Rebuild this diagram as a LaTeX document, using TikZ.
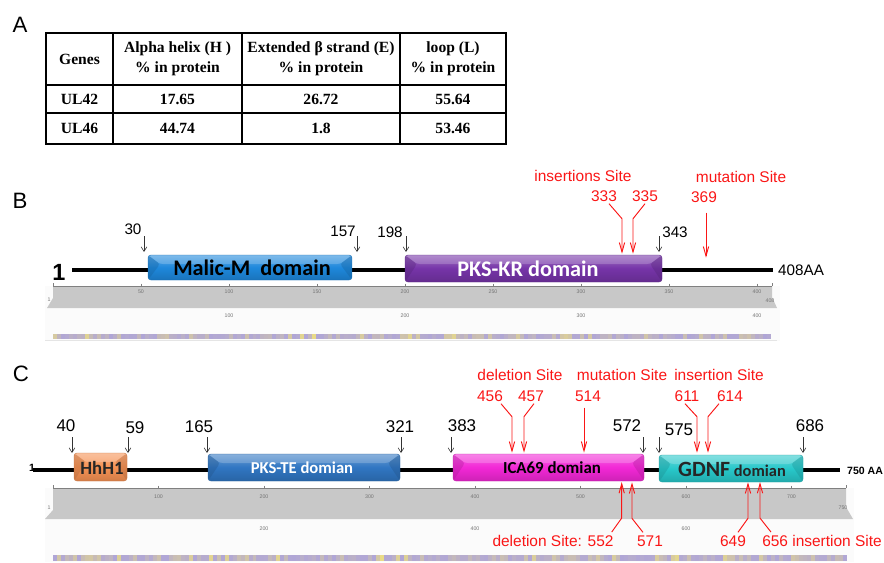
\documentclass[tikz,border=0pt]{standalone}
\usepackage{fontspec}
\setmainfont{Liberation Sans}
\newfontfamily\tabfont{Liberation Serif}
\newfontfamily\domfont{Carlito}
\usetikzlibrary{arrows.meta}

\definecolor{sitered}{RGB}{250,22,22}
\definecolor{malicblue}{RGB}{30,136,220}
\definecolor{kspurple}{RGB}{118,52,168}
\definecolor{hhorange}{RGB}{246,146,84}
\definecolor{teblue}{RGB}{48,118,194}
\definecolor{icamagenta}{RGB}{242,40,214}
\definecolor{gdnfcyan}{RGB}{40,200,202}
\definecolor{rulergray}{RGB}{200,200,200}
\definecolor{stripeA}{RGB}{176,166,214}
\definecolor{stripeB}{RGB}{238,224,128}

\begin{document}
\begin{tikzpicture}[x = 0.03cm, y = -0.03cm,
    tabline/.style = {line width = 1pt},
    tabtext/.style = {font = \tabfont\bfseries\fontsize{13.3}{17}\selectfont, align = center, inner sep = 0},
    panel/.style = {font = \fontsize{19}{19}\selectfont, inner sep = 0},
    numB/.style = {font = \fontsize{13}{13}\selectfont, inner sep = 0},
    numC/.style = {font = \fontsize{14.5}{14.5}\selectfont, inner sep = 0},
    site/.style = {text = sitered, font = \fontsize{13.2}{13.2}\selectfont, inner sep = 0},
    ticklbl/.style = {text = black!55, font = \fontsize{4.5}{5}\selectfont, inner sep = 0},
    backbone/.style = {line width = 3pt},
    blkarrow/.style = {-{Straight Barb[length = 4pt, width = 5pt]}, line width = 0.5pt, black!80},
    redarrow/.style = {-{Straight Barb[length = 8pt, width = 4.5pt]}, line width = 0.8pt, sitered},
    domain/.style = {rounded corners = 2.5pt, draw = #1!80!black, line width = 0.3pt,
        top color = #1!72!white, bottom color = #1!85!black, middle color = #1,
        path picture = {
            \fill[#1!70!black, opacity = 0.35] (path picture bounding box.north west) -- ++(12,9)
                -- (path picture bounding box.south west) -- cycle;
            \fill[#1!70!black, opacity = 0.35] (path picture bounding box.north east) -- ++(-12,9)
                -- (path picture bounding box.south east) -- cycle;
            \fill[white, opacity = 0.2] (path picture bounding box.north west) -- (path picture bounding box.north east)
                -- ++(-12,9) -- ([shift = {(12,9)}]path picture bounding box.north west) -- cycle;
        }},
    domlabel/.style = {font = \domfont\bfseries, inner sep = 0}
]
\useasboundingbox (0,0) rectangle (884,563);

% ---------- A: table
\node[panel] (lblA) at (20,25) {A};
\draw[tabline] (46,33) rectangle (506,144);
\draw[tabline] (46,85) -- (506,85);
\draw[tabline] (46,113) -- (506,113);
\draw[tabline] (113,33) -- (113,144);
\draw[tabline] (242,33) -- (242,144);
\draw[tabline] (400,33) -- (400,144);

\node[tabtext] (hgenes) at (79.5,59) {Genes};
\node[tabtext] (halpha) at (177.5,59) {Alpha helix (H )\\\% in protein};
\node[tabtext] (hbeta) at (321,59) {Extended β strand (E)\\\% in protein};
\node[tabtext] (hloop) at (453,59) {loop (L)\\\% in protein};
\node[tabtext] (gul42) at (79.5,99) {UL42};
\node[tabtext] (aul42) at (177.5,99) {17.65};
\node[tabtext] (bul42) at (321,99) {26.72};
\node[tabtext] (lul42) at (453,99) {55.64};
\node[tabtext] (gul46) at (79.5,128.5) {UL46};
\node[tabtext] (aul46) at (177.5,128.5) {44.74};
\node[tabtext] (bul46) at (321,128.5) {1.8};
\node[tabtext] (lul46) at (453,128.5) {53.46};

% ---------- B: UL42
\node[panel] (lblB) at (20,201) {B};

% ruler
\fill[gray!3] (45,286) rectangle (780,341);
\fill[rulergray] (53,286) -- (772,286) -- (772,297) -- (777,308) -- (47,308) -- (53,298) -- cycle;
\draw[black!50, line width = 0.5pt] (53,286) -- (772,286);
\draw[black!50, line width = 0.5pt] (53,283) -- (53,286);
\draw[black!50, line width = 0.5pt] (772,283) -- (772,286);
\foreach \n in {50,100,...,400} {
    \draw[black!50, line width = 0.4pt] ({53+\n*1.76},283.5) -- ({53+\n*1.76},286);
    \node[ticklbl] (tB\n) at ({53+\n*1.76},292) {\n};
}
\node[ticklbl] (tB1) at (49,300) {1};
\node[ticklbl] (tBend) at (770,301) {408};
\foreach \n in {100,200,300,400}
    \node[ticklbl] (sB\n) at ({53+\n*1.76},316) {\n};
\pgfmathsetseed{11}
\foreach \i in {0,...,179} {
    \pgfmathsetmacro{\m}{int(100*rnd*rnd)}
    \fill[stripeB!\m!stripeA] ({53+\i*3.99},334) rectangle ++(4.1,5);
}
\draw[black!10, line width = 0.6pt] (45,340.5) -- (777,340.5);

% backbone and domains
\draw[backbone] (72,270) -- (773,270);
\node[font = \bfseries\fontsize{20}{20}\selectfont, inner sep = 0] (startB) at (59,272) {1};
\node[numB, anchor = west] (endB) at (778,270) {408AA};
\path[domain = malicblue] (148,255) rectangle (352,280);
\node[domlabel, font = \domfont\bfseries\fontsize{19}{19}\selectfont, text = black] (malic) at (252,268) {Malic-M\ \ domain};
\path[domain = kspurple] (405,255) rectangle (662,282);
\node[domlabel, font = \domfont\bfseries\fontsize{19}{19}\selectfont, text = white] (pkskr) at (528,269) {PKS-KR domain};

% domain borders
\foreach \ax in {144,357,406,659}
    \draw[blkarrow] (\ax,236) -- (\ax,252) coordinate (tipB\ax);
\node[numB] (n30) at (133,229) {30};
\node[numB] (n157) at (343,231) {157};
\node[numB] (n198) at (390,232) {198};
\node[numB] (n343) at (675,232) {343};

% sites
\node[site] (insB) at (583,176) {insertions Site};
\node[site] (n333) at (604,196) {333};
\node[site] (n335) at (645,196) {335};
\node[site] (mutB) at (741,177) {mutation Site};
\node[site] (n369) at (704,197) {369};
\draw[redarrow] (n333.south) ++(5,2) -- ++(13,15) -- ++(0,35);
\draw[redarrow] (n335.south) ++(0,2) -- ++(-12,15) -- ++(0,35);
\draw[redarrow] (n369.south) ++(2,10) -- ++(0,45);

% ---------- C: UL46
\node[panel] (lblC) at (21,374) {C};

% ruler
\fill[gray!3] (45,488) rectangle (854,562);
\fill[rulergray] (53,488) -- (846,488) -- (846,507) -- (853,519) -- (45,519) -- (53,510) -- cycle;
\draw[black!50, line width = 0.5pt] (53,488) -- (846,488);
\draw[black!50, line width = 0.5pt] (53,485) -- (53,488);
\draw[black!50, line width = 0.5pt] (846,485) -- (846,488);
\foreach \n in {100,200,...,700} {
    \draw[black!50, line width = 0.4pt] ({53+\n*1.055},485.5) -- ({53+\n*1.055},488);
    \node[ticklbl] (tC\n) at ({53+\n*1.055},497) {\n};
}
\node[ticklbl] (tC1) at (49,508) {1};
\node[ticklbl] (tCend) at (843,508) {750};
\foreach \n in {200,400,600}
    \node[ticklbl] (sC\n) at ({53+\n*1.055},529) {\n};
\pgfmathsetseed{23}
\foreach \i in {0,...,198} {
    \pgfmathsetmacro{\m}{int(100*rnd*rnd)}
    \fill[stripeB!\m!stripeA] ({53+\i*3.99},555) rectangle ++(4.1,6);
}

% backbone and domains
\draw[backbone, line width = 3.5pt] (33,470) -- (840,470);
\node[font = \bfseries\fontsize{9}{9}\selectfont, inner sep = 0] (startC) at (32,468) {1};
\node[font = \bfseries\fontsize{9}{9}\selectfont, inner sep = 0, anchor = west] (endC) at (847,471) {750 AA};
\path[domain = hhorange] (74,453) rectangle (127,481);
\node[domlabel, font = \domfont\bfseries\fontsize{16}{16}\selectfont, text = black!85] (hhh) at (102,468) {HhH1};
\path[domain = teblue] (208,454) rectangle (400,481);
\node[domlabel, font = \domfont\bfseries\fontsize{14.2}{14.2}\selectfont, text = white] (pkste) at (302,468) {PKS-TE domian};
\path[domain = icamagenta] (453,454) rectangle (644,481);
\node[domlabel, font = \domfont\bfseries\fontsize{14.4}{14.4}\selectfont, text = black] (ica) at (552,468) {ICA69 domian};
\path[domain = gdnfcyan] (659,455) rectangle (803,482);
\node[domlabel, font = \domfont\bfseries\fontsize{14}{14}\selectfont, text = black!85] (gdnf) at (732,469)
    {{\fontsize{18.6}{18.6}\selectfont GDNF} domian};

% domain borders
\foreach \ax in {72,128,207,401,451,643,659,803}
    \draw[blkarrow] (\ax,437) -- (\ax,453) coordinate (tipC\ax);
\node[numC] (n40) at (66,426) {40};
\node[numC] (n59) at (135,428) {59};
\node[numC] (n165) at (199,427) {165};
\node[numC] (n321) at (400,427) {321};
\node[numC] (n383) at (462,426) {383};
\node[numC] (n572) at (627,426) {572};
\node[numC] (n575) at (679,430) {575};
\node[numC] (n686) at (810,426) {686};

% sites above
\node[site] (delC) at (520,375) {deletion Site};
\node[site] (n456) at (490,396) {456};
\node[site] (n457) at (531,396) {457};
\node[site] (mutC) at (622,375) {mutation Site};
\node[site] (n514) at (588,396) {514};
\node[site] (insC) at (719,375) {insertion Site};
\node[site] (n611) at (687,396) {611};
\node[site] (n614) at (730,396) {614};
\draw[redarrow] (n456.south) ++(11,2) -- ++(11,13) -- ++(0,36);
\draw[redarrow] (n457.south) ++(3,2) -- ++(-10,13) -- ++(0,36);
\draw[redarrow] (n514.south) ++(-4,6) -- ++(0,45);
\draw[redarrow] (n611.south) ++(-2,2) -- ++(12,13) -- ++(0,36);
\draw[redarrow] (n614.south) ++(-11,2) -- ++(-11,13) -- ++(0,36);

% sites below
\node[site] (n552) at (553,541) {deletion Site: 552};
\node[site] (n571) at (650,541) {571};
\node[site] (n649) at (733,541) {649};
\node[site] (n656) at (822,541) {656 insertion Site};
\draw[redarrow] (n552.north east) ++(-2,-3) -- ++(10,-14) -- ++(0,-36);
\draw[redarrow] (n571.north) ++(-7,-3) -- ++(-11,-14) -- ++(0,-36);
\draw[redarrow] (n649.north) ++(5,-3) -- ++(10,-14) -- ++(0,-36);
\draw[redarrow] (n656.north west) ++(9,-3) -- ++(-11,-14) -- ++(0,-36);

\end{tikzpicture}
\end{document}
